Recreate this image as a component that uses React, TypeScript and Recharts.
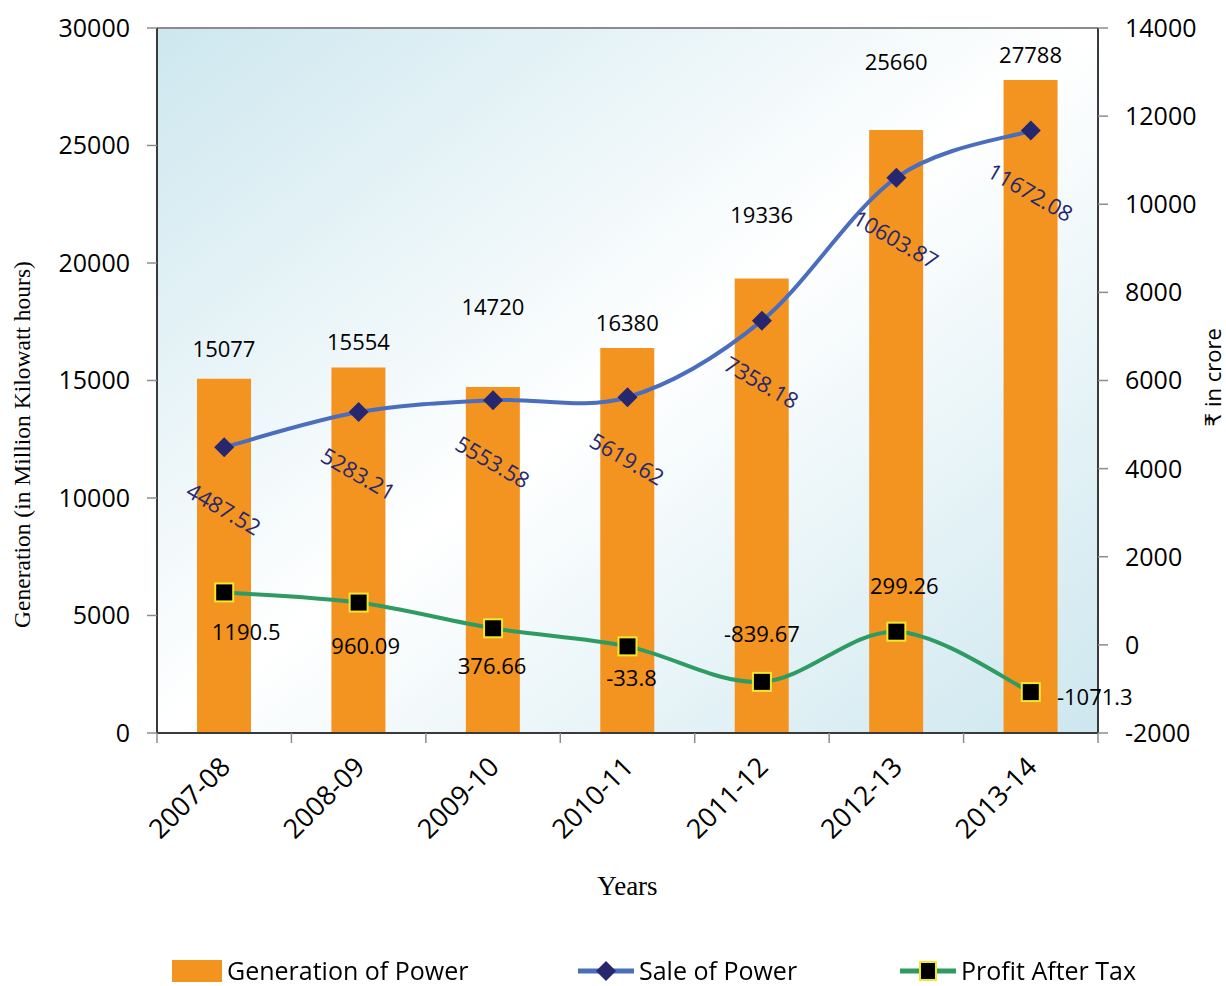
import React from "react";
import {
  ComposedChart,
  Bar,
  Line,
  XAxis,
  YAxis,
  CartesianGrid,
  ReferenceLine,
  LabelList,
} from "recharts";

const years = ["2007-08", "2008-09", "2009-10", "2010-11", "2011-12", "2012-13", "2013-14"];
const generation = [15077, 15554, 14720, 16380, 19336, 25660, 27788];
const saleOfPower = [4487.52, 5283.21, 5553.58, 5619.62, 7358.18, 10603.87, 11672.08];
const profitAfterTax = [1190.5, 960.09, 376.66, -33.8, -839.67, 299.26, -1071.3];

const leftTicks = [0, 5000, 10000, 15000, 20000, 25000, 30000];
const rightTicks = [-2000, 0, 2000, 4000, 6000, 8000, 10000, 12000, 14000];

// label placement tweaks (the source moved some labels by hand)
const genLabelLift = [31, 26, 81, 26, 65, 69, 26];
const profitLabelShift = [
  [22, 39],
  [7, 42],
  [-1, 37],
  [4, 31],
  [0, -49],
  [8, -47],
  [64, 4],
];

const SANS = "'Open Sans', 'DejaVu Sans', sans-serif";
const SERIF = "'Liberation Serif', 'Times New Roman', serif";
const ORANGE = "#F39420";
const BLUE = "#4A6DBE";
const NAVY = "#26276E";
const GREEN = "#2E9B63";
const YELLOW = "#F2E82A";

const data = years.map((year, i) => ({
  year,
  generation: generation[i],
  sale: saleOfPower[i],
  profit: profitAfterTax[i],
}));

// excel-style smoothing (catmull-rom through the points)
function smoothCurve(context: any) {
  let pts: number[][] = [];
  return {
    areaStart() {},
    areaEnd() {},
    lineStart() {
      pts = [];
    },
    lineEnd() {
      if (!pts.length) return;
      context.moveTo(pts[0][0], pts[0][1]);
      for (let i = 0; i < pts.length - 1; i++) {
        const p0 = pts[Math.max(i - 1, 0)];
        const p1 = pts[i];
        const p2 = pts[i + 1];
        const p3 = pts[Math.min(i + 2, pts.length - 1)];
        context.bezierCurveTo(
          p1[0] + (p2[0] - p0[0]) / 6,
          p1[1] + (p2[1] - p0[1]) / 6,
          p2[0] - (p3[0] - p1[0]) / 6,
          p2[1] - (p3[1] - p1[1]) / 6,
          p2[0],
          p2[1]
        );
      }
    },
    point(x: number, y: number) {
      pts.push([+x, +y]);
    },
  };
}

function YearTick(props: any) {
  const { x, y, payload, index, width, visibleTicksCount } = props;
  const half = width / visibleTicksCount / 2;
  const last = index === visibleTicksCount - 1;
  const ax = x + 1;
  const ay = y + 19;
  return (
    <g>
      <line x1={x - half} x2={x - half} y1={y - 10} y2={y} stroke="#8c8c8c" strokeWidth={1.5} />
      {last && <line x1={x + half} x2={x + half} y1={y - 10} y2={y} stroke="#8c8c8c" strokeWidth={1.5} />}
      <text
        x={ax}
        y={ay}
        textAnchor="end"
        dy="0.35em"
        fontSize={27}
        fontFamily={SANS}
        fill="#000"
        transform={`rotate(-45, ${ax}, ${ay})`}
      >
        {payload.value}
      </text>
    </g>
  );
}

function LeftTitle(props: any) {
  const { viewBox } = props;
  const x = viewBox.x + 22;
  const y = viewBox.y + viewBox.height / 2 + 64;
  return (
    <text
      x={x}
      y={y}
      textAnchor="middle"
      dominantBaseline="central"
      fontSize={23.5}
      fontFamily={SERIF}
      fill="#000"
      transform={`rotate(-90, ${x}, ${y})`}
    >
      Generation (in Million Kilowatt hours)
    </text>
  );
}

function RightTitle(props: any) {
  const { viewBox } = props;
  const x = viewBox.x + viewBox.width - 14;
  const y = viewBox.y + viewBox.height / 2 - 3;
  return (
    <text
      x={x}
      y={y}
      textAnchor="middle"
      dominantBaseline="central"
      fontSize={22}
      fontFamily={SANS}
      fill="#000"
      transform={`rotate(-90, ${x}, ${y})`}
    >
      ₹ in crore
    </text>
  );
}

function GenLabel(props: any) {
  const { x, y, width, value, index } = props;
  return (
    <text
      x={x + width / 2}
      y={y - genLabelLift[index]}
      textAnchor="middle"
      dominantBaseline="central"
      fontSize={22}
      fontFamily={SANS}
      fill="#000"
    >
      {value}
    </text>
  );
}

function SaleLabel(props: any) {
  const { x, y, value } = props;
  const cy = y + 61;
  return (
    <text
      x={x}
      y={cy}
      textAnchor="middle"
      dominantBaseline="central"
      fontSize={22}
      fontFamily={SANS}
      fill={NAVY}
      transform={`rotate(30, ${x}, ${cy})`}
    >
      {value}
    </text>
  );
}

function ProfitLabel(props: any) {
  const { x, y, value, index } = props;
  const [dx, dy] = profitLabelShift[index];
  return (
    <text
      x={x + dx}
      y={y + dy}
      textAnchor="middle"
      dominantBaseline="central"
      fontSize={22}
      fontFamily={SANS}
      fill="#000"
    >
      {value}
    </text>
  );
}

function Diamond(props: any) {
  const { cx, cy } = props;
  if (cx == null || cy == null) return null;
  const r = 10;
  return <polygon points={`${cx},${cy - r} ${cx + r},${cy} ${cx},${cy + r} ${cx - r},${cy}`} fill={NAVY} />;
}

function Square(props: any) {
  const { cx, cy } = props;
  if (cx == null || cy == null) return null;
  return <rect x={cx - 9} y={cy - 9} width={18} height={18} fill="#000" stroke={YELLOW} strokeWidth={2} />;
}

function LegendRow() {
  const item: React.CSSProperties = { display: "flex", alignItems: "center", position: "absolute", top: 0, height: 25 };
  const text: React.CSSProperties = {
    fontFamily: SANS,
    fontSize: 25,
    lineHeight: "25px",
    color: "#000",
    marginLeft: 5,
    whiteSpace: "nowrap",
  };
  return (
    <div style={{ position: "absolute", left: 0, top: 958, width: 1226, height: 26 }}>
      <div style={{ ...item, left: 172 }}>
        <div style={{ width: 50, height: 22, background: ORANGE }} />
        <span style={text}>Generation of Power</span>
      </div>
      <div style={{ ...item, left: 578 }}>
        <svg width={56} height={24}>
          <line x1={0} x2={56} y1={12} y2={12} stroke={BLUE} strokeWidth={5} />
          <polygon points="28,2 38,12 28,22 18,12" fill={NAVY} />
        </svg>
        <span style={text}>Sale of Power</span>
      </div>
      <div style={{ ...item, left: 900 }}>
        <svg width={56} height={24}>
          <line x1={0} x2={56} y1={12} y2={12} stroke={GREEN} strokeWidth={5} />
          <rect x={20} y={3} width={16} height={18} fill="#000" stroke={YELLOW} strokeWidth={2} />
        </svg>
        <span style={text}>Profit After Tax</span>
      </div>
    </div>
  );
}

export default function App() {
  return (
    <div
      style={{
        position: "fixed",
        left: 0,
        top: 0,
        width: 1226,
        height: 986,
        background: "#fff",
      }}
    >
      <ComposedChart
        width={1226}
        height={986}
        data={data}
        margin={{ top: 28, right: 0, bottom: 63, left: 0 }}
      >
        <defs>
          <linearGradient id="plotBg" x1="0" y1="0" x2="1" y2="1">
            <stop offset="0%" stopColor="#CDE7EF" />
            <stop offset="50%" stopColor="#FFFFFF" />
            <stop offset="100%" stopColor="#CDE7EF" />
          </linearGradient>
        </defs>
        <CartesianGrid yAxisId="left" horizontal={false} vertical={false} fill="url(#plotBg)" />
        <XAxis
          dataKey="year"
          height={190}
          interval={0}
          tick={<YearTick />}
          tickSize={10}
          tickMargin={0}
          tickLine={{ stroke: "none" }}
          axisLine={{ stroke: "#3a3a3a", strokeWidth: 2 }}
          label={{ value: "Years", position: "insideBottom", offset: 28, style: { fontFamily: SERIF, fontSize: 27, fill: "#000" } }}
        />
        <YAxis
          yAxisId="left"
          domain={[0, 30000]}
          ticks={leftTicks}
          width={157}
          tickSize={10}
          tickMargin={17}
          tick={{ fontSize: 25, fontFamily: SANS, fill: "#000" }}
          tickLine={{ stroke: "#8c8c8c", strokeWidth: 1.5 }}
          axisLine={{ stroke: "#3a3a3a", strokeWidth: 2 }}
          label={{ content: <LeftTitle /> }}
        />
        <YAxis
          yAxisId="right"
          orientation="right"
          domain={[-2000, 14000]}
          ticks={rightTicks}
          width={128}
          tickSize={10}
          tickMargin={17}
          tick={{ fontSize: 25, fontFamily: SANS, fill: "#000" }}
          tickLine={{ stroke: "#8c8c8c", strokeWidth: 1.5 }}
          axisLine={{ stroke: "#3a3a3a", strokeWidth: 2 }}
          label={{ content: <RightTitle /> }}
        />
        <ReferenceLine yAxisId="left" y={30000} stroke="#8c8c8c" strokeWidth={2} />
        <Bar yAxisId="left" dataKey="generation" fill={ORANGE} barSize={54} isAnimationActive={false}>
          <LabelList dataKey="generation" content={<GenLabel />} />
        </Bar>
        <Line
          yAxisId="right"
          type={smoothCurve as any}
          dataKey="sale"
          stroke={BLUE}
          strokeWidth={4}
          dot={<Diamond />}
          activeDot={false}
          isAnimationActive={false}
        >
          <LabelList dataKey="sale" content={<SaleLabel />} />
        </Line>
        <Line
          yAxisId="right"
          type={smoothCurve as any}
          dataKey="profit"
          stroke={GREEN}
          strokeWidth={4}
          dot={<Square />}
          activeDot={false}
          isAnimationActive={false}
        >
          <LabelList dataKey="profit" content={<ProfitLabel />} />
        </Line>
      </ComposedChart>
      <LegendRow />
    </div>
  );
}
